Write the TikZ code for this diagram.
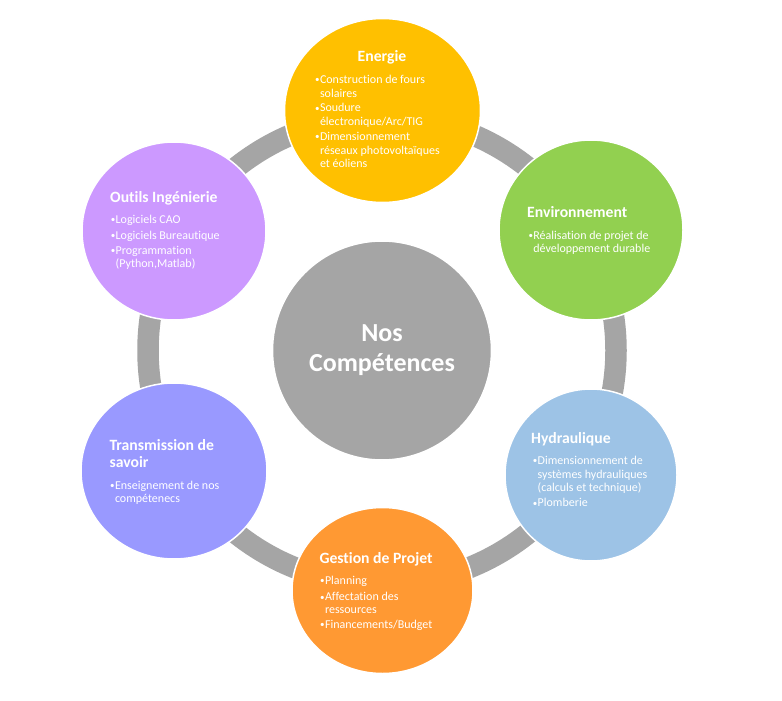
\documentclass[tikz,border=0pt]{standalone}
\usepackage{fontspec}
\setmainfont{Carlito}[Ligatures={NoCommon}]
\usetikzlibrary{shapes.geometric}
\definecolor{cEn}{HTML}{FFC000}
\definecolor{cEv}{HTML}{92D050}
\definecolor{cHy}{HTML}{9DC3E6}
\definecolor{cGe}{HTML}{FF9933}
\definecolor{cTr}{HTML}{9999FF}
\definecolor{cOu}{HTML}{CC99FF}
\definecolor{cGr}{HTML}{A5A5A5}
\newcommand\bul{\makebox[4.8pt][l]{\raisebox{0.7pt}{\fontsize{9}{9}\selectfont •}}}
\tikzset{
  blob/.style={ellipse, draw=white, line width=1.5pt, inner sep=0pt},
  txt/.style={text=white, inner sep=0pt, anchor=base west, font=\fontsize{12}{14}\selectfont},
  ttl/.style={text=white, inner sep=0pt, anchor=base west, font=\bfseries\fontsize{15.7}{17.5}\selectfont},
}
\begin{document}
\begin{tikzpicture}[x=1pt,y=-1pt]
\fill[white] (0,0) rectangle (782,701);
\useasboundingbox (0,0) rectangle (782,701);
% ring
\coordinate (ctr) at (382,350.5);
\draw[white, line width=24.5pt] (ctr) circle [radius=234pt];
\draw[cGr, line width=21.5pt] (ctr) circle [radius=234pt];
% centre
\node[circle, fill=cGr, draw=white, line width=1.5pt, minimum size=219pt, inner sep=0pt] (core) at (ctr) {};
% satellites
\node[blob, fill=cEn, minimum width=196pt, minimum height=184pt] (energie) at (382.5,110.5) {};
\node[blob, fill=cEv, minimum width=184pt, minimum height=180pt] (env) at (591,230) {};
\node[blob, fill=cHy, minimum width=172pt, minimum height=172pt] (hyd) at (591,475) {};
\node[blob, fill=cGe, minimum width=181pt, minimum height=166pt] (ges) at (382.5,590.5) {};
\node[blob, fill=cTr, minimum width=186pt, minimum height=176pt] (tra) at (174,471) {};
\node[blob, fill=cOu, minimum width=184pt, minimum height=178pt] (out) at (174,231) {};
% centre text
\node[text=white, inner sep=0pt, anchor=base, font=\bfseries\fontsize{26}{30}\selectfont] (c1) at (382,341.7) {Nos};
\node[text=white, inner sep=0pt, anchor=base, font=\bfseries\fontsize{26}{30}\selectfont] (c2) at (382,371.7) {Compétences};
% Energie
\node[ttl, anchor=base] (eT) at (382,62) {Energie};
\node[txt] (e1) at (315,83.3) {\bul Construction de fours};
\node[txt] (e2) at (319.8,97.3) {solaires};
\node[txt] (e3) at (315,111.7) {\bul Soudure};
\node[txt] (e4) at (319.8,125.3) {électronique/Arc/TIG};
\node[txt] (e5) at (315,140) {\bul Dimensionnement};
\node[txt] (e6) at (319.8,154) {réseaux photovoltaïques};
\node[txt] (e7) at (319.8,167.3) {et éoliens};
% Environnement
\node[ttl] (vT) at (527,217.7) {Environnement};
\node[txt] (v1) at (528.3,239) {\bul Réalisation de projet de};
\node[txt] (v2) at (533.1,252.7) {développement durable};
% Hydraulique
\node[ttl] (hT) at (531,443.3) {Hydraulique};
\node[txt] (h1) at (532.7,464) {\bul Dimensionnement de};
\node[txt] (h2) at (537.5,478.3) {systèmes hydrauliques};
\node[txt] (h3) at (537.5,491.7) {(calculs et technique)};
\node[txt] (h4) at (532.7,506.7) {\bul Plomberie};
% Gestion de Projet
\node[ttl] (gT) at (319.3,563.3) {Gestion de Projet};
\node[txt] (g1) at (320,584) {\bul Planning};
\node[txt] (g2) at (320,600.7) {\bul Affectation des};
\node[txt] (g3) at (324.8,613) {ressources};
\node[txt] (g4) at (320,628.3) {\bul Financements/Budget};
% Transmission de savoir
\node[ttl] (tT1) at (109.3,450) {Transmission de};
\node[ttl] (tT2) at (109.3,467.3) {savoir};
\node[txt] (t1) at (110,489) {\bul Enseignement de nos};
\node[txt] (t2) at (114.8,502) {compétenecs};
% Outils Ingénierie
\node[ttl] (oT) at (110,202.3) {Outils Ingénierie};
\node[txt] (o1) at (110.7,223.3) {\bul Logiciels CAO};
\node[txt] (o2) at (110.7,239.3) {\bul Logiciels Bureautique};
\node[txt] (o3) at (110.7,254) {\bul Programmation};
\node[txt] (o4) at (115.5,267.3) {(Python,Matlab)};
\end{tikzpicture}
\end{document}
